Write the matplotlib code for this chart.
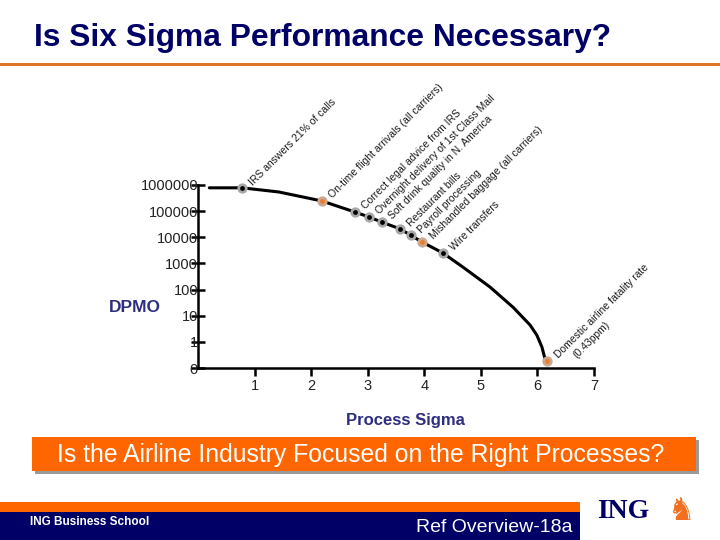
import matplotlib
matplotlib.use("Agg")
import matplotlib.pyplot as plt
from matplotlib.patches import Rectangle

plt.rcParams['font.family'] = ['Liberation Sans', 'DejaVu Sans']

NAVY = "#000066"
ORANGE = "#FF6600"
RULE = "#E07428"

# curve (process sigma, DPMO)
curve_sigma = [0.2, 0.78, 1.43, 2.19, 2.77, 3.02, 3.25, 3.57, 3.76, 3.96,
               4.33, 4.68, 5.16, 5.57, 5.87, 5.99, 6.08, 6.13, 6.17]
curve_dpmo = [780000, 780000, 540000, 245000, 93000, 60000, 38000, 21000,
              12000, 6600, 2500, 730, 126, 21, 4.4, 1.8, 0.63, 0.24, 0.19]

# labelled processes
proc_names = [
    "IRS answers 21% of calls",
    "On-time flight arrivals (all carriers)",
    "Correct legal advice from IRS",
    "Overnight delivery of 1st Class Mail",
    "Soft drink quality in N. America",
    "Restaurant bills",
    "Payroll processing",
    "Mishandled baggage (all carriers)",
    "Wire transfers",
    "Domestic airline fatality rate\n(0.43ppm)",
]
proc_sigma = [0.78, 2.19, 2.77, 3.02, 3.25, 3.57, 3.76, 3.96, 4.33, 6.17]
proc_dpmo = [780000, 245000, 93000, 60000, 38000, 21000, 12000, 6600, 2500, 0.19]
proc_airline = [False, True, False, False, False, False, False, True, False, True]

x_ticks = [1, 2, 3, 4, 5, 6, 7]
y_ticks = [0.1, 1, 10, 100, 1000, 10000, 100000, 1000000]
y_labels = ["0", "1", "10", "100", "1000", "10000", "100000", "1000000"]

fig = plt.figure(figsize=(7.2, 5.4), dpi=100)
W, H = 720, 540

def fx(px):
    return px / W

def fy(py):
    return 1 - py / H

# header
fig.text(fx(34), fy(38), "Is Six Sigma Performance Necessary?", fontsize=22.9,
         fontweight="bold", color=NAVY, va="center", ha="left")
fig.add_artist(Rectangle((0, fy(66)), 1, 3 / H, transform=fig.transFigure,
                         color=RULE, lw=0))

# chart
ax = fig.add_axes([fx(198), fy(368), fx(594 - 198), (368 - 185) / H])
ax.set_yscale("log")
ax.set_xlim(0, 7)
ax.set_ylim(0.1, 1000000)
ax.patch.set_alpha(0)
for s in ["top", "right"]:
    ax.spines[s].set_visible(False)
for s in ["left", "bottom"]:
    ax.spines[s].set_linewidth(1.8)

ax.set_xticks(x_ticks)
ax.set_xticklabels([str(t) for t in x_ticks])
ax.set_yticks(y_ticks)
ax.set_yticklabels(y_labels)
ax.yaxis.set_minor_locator(matplotlib.ticker.NullLocator())
ax.tick_params(axis="y", direction="inout", length=10, width=1.8, pad=-5,
               labelsize=10.5, labelcolor="#222222")
ax.tick_params(axis="x", direction="out", length=6, width=1.8, pad=2,
               labelsize=10.5, labelcolor="#222222")

ax.plot(curve_sigma, curve_dpmo, color="black", lw=2.2, clip_on=False,
        solid_capstyle="round", solid_joinstyle="round")

for name, sx, dy, air in zip(proc_names, proc_sigma, proc_dpmo, proc_airline):
    outer = "#C9A992" if air else "#A8A8A8"
    inner = "#EE7D2A" if air else "black"
    ax.scatter([sx], [dy], s=55, color=outer, zorder=3, clip_on=False, lw=0)
    ax.scatter([sx], [dy], s=12, color=inner, zorder=4, clip_on=False, lw=0)
    for i, line in enumerate(name.split("\n")):
        ax.annotate(line, (sx, dy), xytext=(8 + 13.5 * i, 1.5),
                    textcoords="offset points", rotation=45,
                    rotation_mode="anchor", ha="left", va="baseline",
                    fontsize=7.5, color="#1a1a1a")

fig.text(fx(135), fy(308), "DPMO", fontsize=12.5, fontweight="bold",
         color="#2E2E80", ha="center", va="center")
fig.text(fx(405), fy(420), "Process Sigma", fontsize=12, fontweight="bold",
         color="#2E2E80", ha="center", va="center")

# banner
fig.add_artist(Rectangle((fx(35), fy(474)), fx(664), 34 / H,
                         transform=fig.transFigure, color="#9A9A9A", lw=0))
fig.add_artist(Rectangle((fx(32), fy(471)), fx(664), 34 / H,
                         transform=fig.transFigure, color=ORANGE, lw=0))
fig.text(fx(361), fy(455), "Is the Airline Industry Focused on the Right Processes?",
         fontsize=17.8, color="white", ha="center", va="center")

# footer
fig.add_artist(Rectangle((0, fy(512)), fx(580), 10 / H,
                         transform=fig.transFigure, color=ORANGE, lw=0))
fig.add_artist(Rectangle((0, 0), fx(580), 28 / H,
                         transform=fig.transFigure, color=NAVY, lw=0))
fig.text(fx(30), fy(522), "ING Business School", fontsize=8.5, fontweight="bold",
         color="white", ha="left", va="center")
fig.text(fx(572), fy(527), "Ref Overview-18a", fontsize=14,
         color="white", ha="right", va="center")
fig.text(fx(597), fy(511), "ING", fontsize=20, fontweight="bold",
         family="Liberation Serif", color=NAVY, ha="left", va="center")
fig.text(fx(681), fy(511), "\u265E", fontsize=22, color="#F07020",
         family="DejaVu Sans", ha="center", va="center")

fig.savefig("out.png", dpi=100)
